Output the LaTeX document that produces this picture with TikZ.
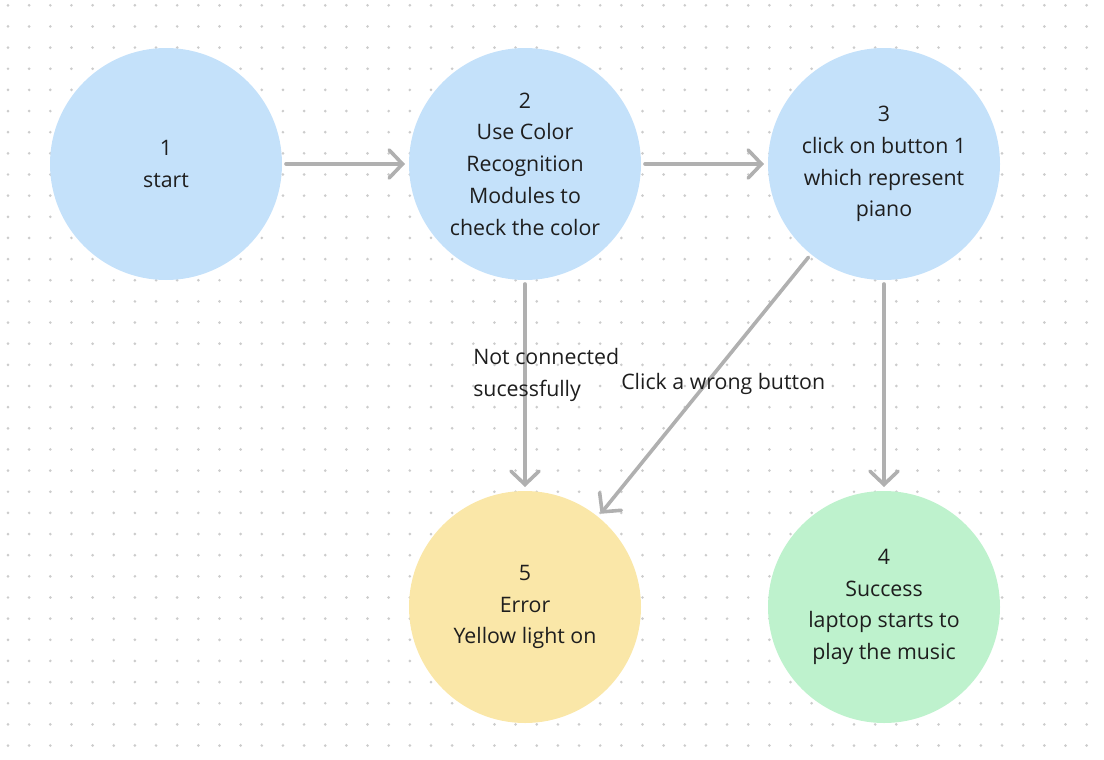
\documentclass[tikz,border=0pt]{standalone}
\usepackage{fontspec}
\setmainfont{Open Sans}
\usepackage{xcolor}
\usepackage{tikz}
\usetikzlibrary{arrows.meta,positioning}

\definecolor{stepblue}{HTML}{C4E1FA}
\definecolor{stepyellow}{HTML}{FAE7A8}
\definecolor{stepgreen}{HTML}{BEF2CD}
\definecolor{flowgray}{HTML}{B0B0B0}
\definecolor{griddot}{HTML}{CCCCCC}
\definecolor{inkgray}{HTML}{1E1E1E}

\begin{document}
\begin{tikzpicture}[
        x=0.75pt, y=-0.75pt,
        stage/.style={circle, minimum size=174pt, inner sep=0pt, outer sep=3pt, align=center,
            text=inkgray, font=\fontsize{16}{23.8}\selectfont},
        flow/.style={-{Straight Barb[length=10pt, width=21pt, line cap=round]}, line width=2.7pt,
            line cap=round, color=flowgray},
        note/.style={text=inkgray, font=\fontsize{16}{23.8}\selectfont, inner sep=0pt}
    ]
        \useasboundingbox (0,0) rectangle (1104,760);
        % dotted canvas
        \foreach \i in {0,...,52} {
            \foreach \j in {0,...,35} {
                \fill[griddot] (8+21.15*\i, 5.3+21.15*\j) circle (1.1pt);
            }
        }

        \node[stage, fill=stepblue] (s1) at (166,164) {1\\start};
        \node[stage, fill=stepblue] (s2) at (525,164) {2\\Use Color\\Recognition\\Modules to\\check the color};
        \node[stage, fill=stepblue] (s3) at (884,164) {3\\click on button 1\\which represent\\piano};
        \node[stage, fill=stepgreen] (s4) at (884,607) {4\\Success\\laptop starts to\\play the music};
        \node[stage, fill=stepyellow] (s5) at (525,607) {5\\Error\\Yellow light on};

        \draw[flow] (s1) -- (s2);
        \draw[flow] (s2) -- (s3);
        \draw[flow] (s2) -- (s5);
        \draw[flow] (s3) -- (s4);
        \draw[flow] (s3) -- (s5);

        \node[note, anchor=west, align=left] (nc) at (473,375) {Not connected\\sucessfully};
        \node[note, anchor=west] (wb) at (621,383.5) {Click a wrong button};
    \end{tikzpicture}
\end{document}
